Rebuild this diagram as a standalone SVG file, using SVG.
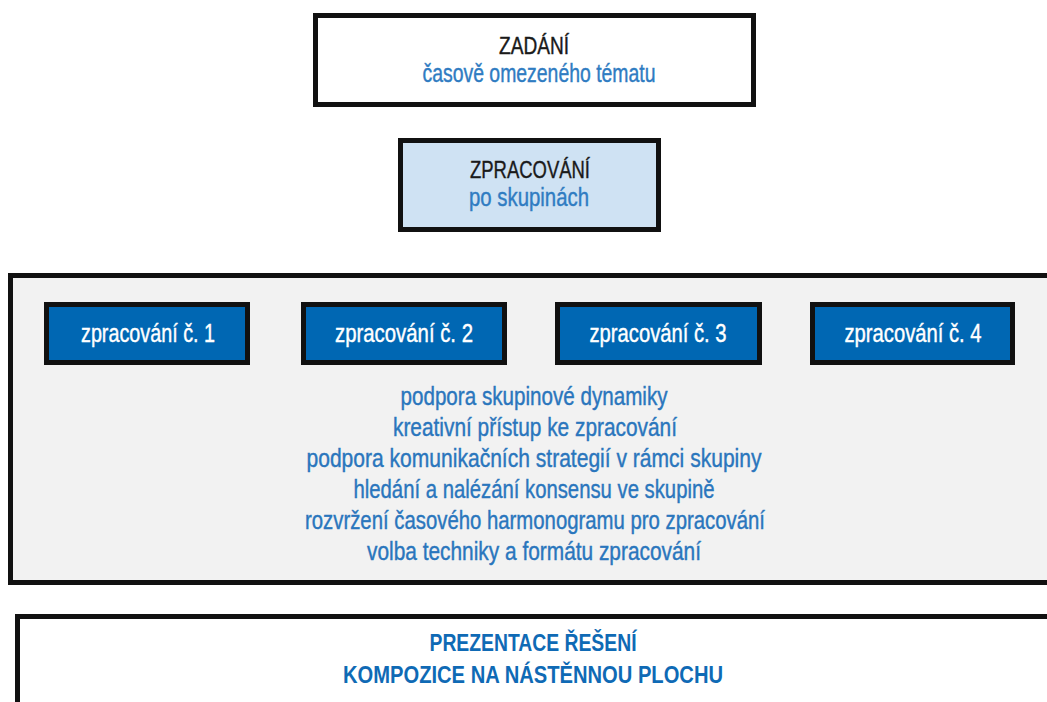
<svg xmlns="http://www.w3.org/2000/svg" width="1047" height="702" viewBox="0 0 1047 702">
<style>
.box{stroke:#111;stroke-width:5}
.t{font-family:"Liberation Sans",Arial,sans-serif;text-anchor:middle}
.h{font-size:24px;fill:#1a1a1a;stroke:#1a1a1a;stroke-width:0.4}
.s{font-size:25px;fill:#2f7cc2;stroke:#2f7cc2;stroke-width:0.4}
.w{font-size:25px;fill:#ffffff;stroke:#ffffff;stroke-width:0.4}
.b{font-size:25px;fill:#2a76bd;stroke:#2a76bd;stroke-width:0.4}
.p{font-size:24px;fill:#0f6ab5;font-weight:bold}
</style>
<rect width="1047" height="702" fill="#ffffff"/>
<g id="zadani">
<rect class="box" x="315.5" y="15.5" width="438" height="89" fill="#ffffff"/>
<text class="t h" x="534" y="54" textLength="70" lengthAdjust="spacingAndGlyphs">ZADÁNÍ</text>
<text class="t s" x="539" y="82" textLength="233" lengthAdjust="spacingAndGlyphs">časově omezeného tématu</text>
</g>
<g id="zpracovani">
<rect class="box" x="400.5" y="140.5" width="258" height="89" fill="#cfe2f3"/>
<text class="t h" x="530" y="178" textLength="120" lengthAdjust="spacingAndGlyphs">ZPRACOVÁNÍ</text>
<text class="t s" x="529" y="206" textLength="120" lengthAdjust="spacingAndGlyphs">po skupinách</text>
</g>
<g id="skupiny">
<rect class="box" x="10.5" y="275.5" width="1045" height="307" fill="#f2f2f2"/>
<text class="t b" x="534" y="405" textLength="267" lengthAdjust="spacingAndGlyphs">podpora skupinové dynamiky</text>
<text class="t b" x="535" y="436" textLength="284" lengthAdjust="spacingAndGlyphs">kreativní přístup ke zpracování</text>
<text class="t b" x="534" y="467" textLength="455" lengthAdjust="spacingAndGlyphs">podpora komunikačních strategií v rámci skupiny</text>
<text class="t b" x="534" y="498" textLength="361" lengthAdjust="spacingAndGlyphs">hledání a nalézání konsensu ve skupině</text>
<text class="t b" x="535" y="529" textLength="460" lengthAdjust="spacingAndGlyphs">rozvržení časového harmonogramu pro zpracování</text>
<text class="t b" x="534" y="560" textLength="334" lengthAdjust="spacingAndGlyphs">volba techniky a formátu zpracování</text>
</g>
<g id="zpracovani1">
<rect class="box" x="46.5" y="304.5" width="201" height="58" fill="#0067b3"/>
<text class="t w" x="148" y="342" textLength="134" lengthAdjust="spacingAndGlyphs">zpracování č. 1</text>
</g>
<g id="zpracovani2">
<rect class="box" x="303.5" y="304.5" width="201" height="58" fill="#0067b3"/>
<text class="t w" x="404" y="342" textLength="138" lengthAdjust="spacingAndGlyphs">zpracování č. 2</text>
</g>
<g id="zpracovani3">
<rect class="box" x="557.5" y="304.5" width="202" height="58" fill="#0067b3"/>
<text class="t w" x="658" y="342" textLength="137" lengthAdjust="spacingAndGlyphs">zpracování č. 3</text>
</g>
<g id="zpracovani4">
<rect class="box" x="812.5" y="304.5" width="200" height="58" fill="#0067b3"/>
<text class="t w" x="913" y="342" textLength="137" lengthAdjust="spacingAndGlyphs">zpracování č. 4</text>
</g>
<g id="prezentace">
<rect class="box" x="17.5" y="616.5" width="1040" height="100" fill="#ffffff"/>
<text class="t p" x="533" y="651" textLength="207" lengthAdjust="spacingAndGlyphs">PREZENTACE ŘEŠENÍ</text>
<text class="t p" x="533" y="683" textLength="380" lengthAdjust="spacingAndGlyphs">KOMPOZICE NA NÁSTĚNNOU PLOCHU</text>
</g>
<g id="connectors"></g>
</svg>
